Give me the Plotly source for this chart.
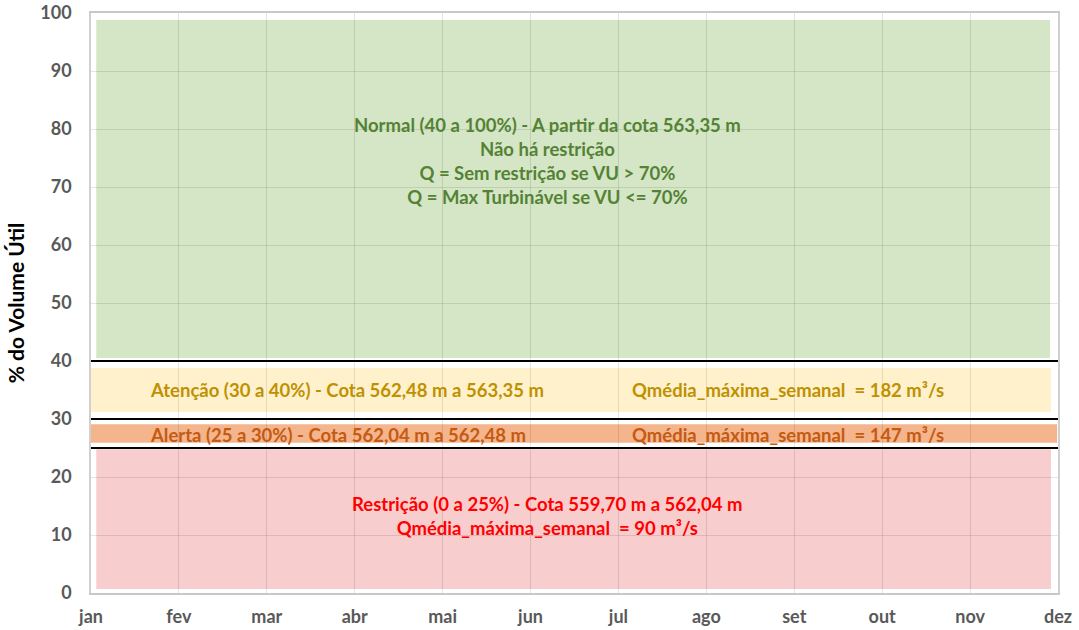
import plotly.graph_objects as go

months = ["jan", "fev", "mar", "abr", "mai", "jun", "jul", "ago", "set", "out", "nov", "dez"]
y_ticks = [0, 10, 20, 30, 40, 50, 60, 70, 80, 90, 100]

zone_names = ["Normal", "Atenção", "Alerta", "Restrição"]
zone_lower = [40, 30, 25, 0]
zone_upper = [100, 40, 30, 25]
limit_lines = [40, 30, 25]

zone_fill = ["#D4E6C5", "#FFF1CC", "#F4B48C", "#F8CDCD"]
zone_text_color = ["#548235", "#BF9000", "#C55A11", "#FF0000"]
# insets (style only): left, right in x-index units; top, bottom in % units
zone_inset = [
    (0.06, 0.09, 1.2, 0.5),
    (0.0, 0.08, 1.2, 1.2),
    (0.0, 0.01, 0.9, 0.9),
    (0.06, 0.08, 0.2, 0.7),
]

normal_text = ("Normal (40 a 100%) - A partir da cota 563,35 m<br>Não há restrição<br>"
               "Q = Sem restrição se VU > 70%<br>Q = Max Turbinável se VU <= 70%")
atencao_text = "Atenção (30 a 40%) - Cota 562,48 m a 563,35 m"
atencao_q = "Qmédia_máxima_semanal  = 182 m³/s"
alerta_text = "Alerta (25 a 30%) - Cota 562,04 m a 562,48 m"
alerta_q = "Qmédia_máxima_semanal  = 147 m³/s"
restricao_text = "Restrição (0 a 25%) - Cota 559,70 m a 562,04 m<br>Qmédia_máxima_semanal  = 90 m³/s"

FONT = "Lato"
x_idx = list(range(len(months)))
xmax = x_idx[-1]

fig = go.Figure()
# invisible trace to establish axes
fig.add_trace(go.Scatter(x=x_idx, y=[None] * len(x_idx), mode="markers", showlegend=False, hoverinfo="skip"))

shapes = []
for lo, hi, col, (il, ir, it, ib) in zip(zone_lower, zone_upper, zone_fill, zone_inset):
    shapes.append(dict(type="rect", xref="x", yref="y", x0=0 + il, x1=xmax - ir,
                       y0=lo + ib, y1=hi - it, fillcolor=col, line=dict(width=0), layer="below"))
for v in limit_lines:
    shapes.append(dict(type="line", xref="x", yref="y", x0=0, x1=xmax + 0.02, y0=v, y1=v,
                       line=dict(color="black", width=2.2), layer="above"))

annotations = [
    dict(x=5.19, y=74.4, text=normal_text, font=dict(color=zone_text_color[0])),
    dict(x=0.65, y=35.0, text=atencao_text, xanchor="left", font=dict(color=zone_text_color[1])),
    dict(x=6.13, y=35.0, text=atencao_q, xanchor="left", font=dict(color=zone_text_color[1])),
    dict(x=0.65, y=27.3, text=alerta_text, xanchor="left", font=dict(color=zone_text_color[2])),
    dict(x=6.13, y=27.3, text=alerta_q, xanchor="left", font=dict(color=zone_text_color[2])),
    dict(x=5.19, y=13.3, text=restricao_text, font=dict(color=zone_text_color[3])),
]
for a in annotations:
    a.update(xref="x", yref="y", showarrow=False)
    a["font"].update(family=FONT, size=18.5, weight="bold")
    a.setdefault("xanchor", "center")

fig.update_layout(
    width=1079, height=630,
    margin=dict(l=91, r=21, t=13, b=37),
    paper_bgcolor="white", plot_bgcolor="white",
    shapes=shapes, annotations=annotations,
    showlegend=False,
    xaxis=dict(range=[0, xmax], tickmode="array", tickvals=x_idx, ticktext=months,
               automargin=False, ticklabeloverflow="allow",
               showgrid=True, gridcolor="rgba(0,0,0,0.10)", gridwidth=1,
               showline=True, mirror=True, linecolor="#C8C8C8", linewidth=1.5, zeroline=False,
               ticks="outside", ticklen=7, tickcolor="rgba(0,0,0,0)",
               tickfont=dict(family=FONT, size=18, color="#595959", weight="bold")),
    yaxis=dict(range=[0, 100], tickmode="array", tickvals=y_ticks,
               automargin=False, ticklabeloverflow="allow",
               showgrid=True, gridcolor="rgba(0,0,0,0.10)", gridwidth=1,
               showline=True, mirror=True, linecolor="#D0D0D0", linewidth=1.5, zeroline=False,
               ticks="outside", ticklen=14, tickcolor="rgba(0,0,0,0)",
               tickfont=dict(family=FONT, size=18, color="#595959", weight="bold"),
               title=dict(text="% do Volume Útil", standoff=10,
                          font=dict(family=FONT, size=21, color="black", weight="bold"))),
)

fig.write_html("out.html", config={"displayModeBar": False},
               post_script="document.body.style.margin='0';document.body.style.overflow='hidden';")
